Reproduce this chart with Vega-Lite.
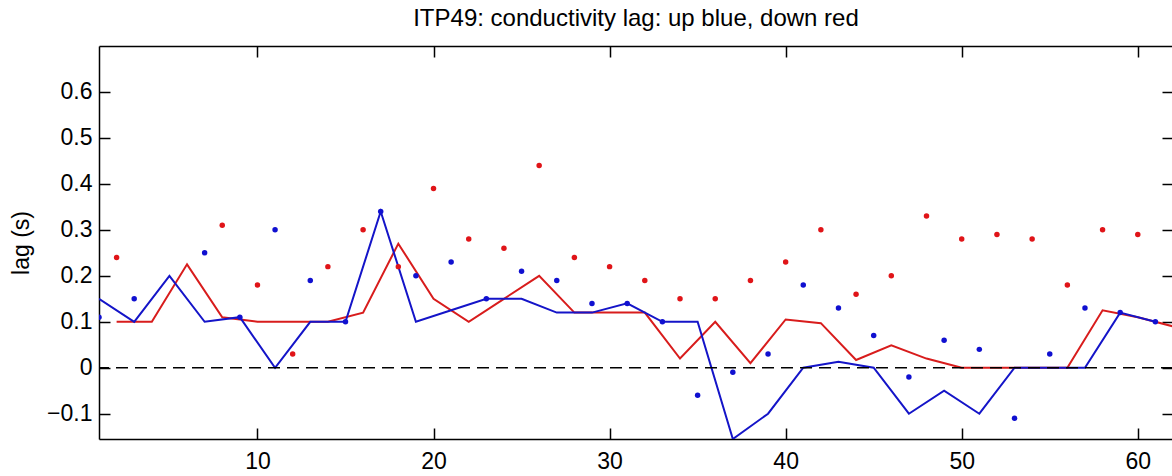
{
  "$schema": "https://vega.github.io/schema/vega-lite/v6.json",
  "width": 1074,
  "height": 393,
  "autosize": {"type": "none"},
  "padding": {"left": 99, "top": 46, "right": 0, "bottom": 37},
  "background": "white",
  "config": {"view": {"stroke": null}, "font": "Liberation Sans"},
  "title": {"text": "ITP49: conductivity lag: up blue, down red", "fontSize": 24, "fontWeight": "normal", "font": "Liberation Sans", "color": "black", "anchor": "middle", "offset": 14},
  "datasets": {
    "dots": [
      {"x": 1, "lag": 0.11, "dir": "up"}, {"x": 3, "lag": 0.15, "dir": "up"}, {"x": 7, "lag": 0.25, "dir": "up"},
      {"x": 9, "lag": 0.11, "dir": "up"}, {"x": 11, "lag": 0.30, "dir": "up"}, {"x": 13, "lag": 0.19, "dir": "up"},
      {"x": 15, "lag": 0.10, "dir": "up"}, {"x": 17, "lag": 0.34, "dir": "up"}, {"x": 19, "lag": 0.20, "dir": "up"},
      {"x": 21, "lag": 0.23, "dir": "up"}, {"x": 23, "lag": 0.15, "dir": "up"}, {"x": 25, "lag": 0.21, "dir": "up"},
      {"x": 27, "lag": 0.19, "dir": "up"}, {"x": 29, "lag": 0.14, "dir": "up"}, {"x": 31, "lag": 0.14, "dir": "up"},
      {"x": 33, "lag": 0.10, "dir": "up"}, {"x": 35, "lag": -0.06, "dir": "up"}, {"x": 37, "lag": -0.01, "dir": "up"},
      {"x": 39, "lag": 0.03, "dir": "up"}, {"x": 41, "lag": 0.18, "dir": "up"}, {"x": 43, "lag": 0.13, "dir": "up"},
      {"x": 45, "lag": 0.07, "dir": "up"}, {"x": 47, "lag": -0.02, "dir": "up"}, {"x": 49, "lag": 0.06, "dir": "up"},
      {"x": 51, "lag": 0.04, "dir": "up"}, {"x": 53, "lag": -0.11, "dir": "up"}, {"x": 55, "lag": 0.03, "dir": "up"},
      {"x": 57, "lag": 0.13, "dir": "up"}, {"x": 59, "lag": 0.12, "dir": "up"}, {"x": 61, "lag": 0.10, "dir": "up"},
      {"x": 2, "lag": 0.24, "dir": "down"}, {"x": 8, "lag": 0.31, "dir": "down"}, {"x": 10, "lag": 0.18, "dir": "down"},
      {"x": 12, "lag": 0.03, "dir": "down"}, {"x": 14, "lag": 0.22, "dir": "down"}, {"x": 16, "lag": 0.30, "dir": "down"},
      {"x": 18, "lag": 0.22, "dir": "down"}, {"x": 20, "lag": 0.39, "dir": "down"}, {"x": 22, "lag": 0.28, "dir": "down"},
      {"x": 24, "lag": 0.26, "dir": "down"}, {"x": 26, "lag": 0.44, "dir": "down"}, {"x": 28, "lag": 0.24, "dir": "down"},
      {"x": 30, "lag": 0.22, "dir": "down"}, {"x": 32, "lag": 0.19, "dir": "down"}, {"x": 34, "lag": 0.15, "dir": "down"},
      {"x": 36, "lag": 0.15, "dir": "down"}, {"x": 38, "lag": 0.19, "dir": "down"}, {"x": 40, "lag": 0.23, "dir": "down"},
      {"x": 42, "lag": 0.30, "dir": "down"}, {"x": 44, "lag": 0.16, "dir": "down"}, {"x": 46, "lag": 0.20, "dir": "down"},
      {"x": 48, "lag": 0.33, "dir": "down"}, {"x": 50, "lag": 0.28, "dir": "down"}, {"x": 52, "lag": 0.29, "dir": "down"},
      {"x": 54, "lag": 0.28, "dir": "down"}, {"x": 56, "lag": 0.18, "dir": "down"}, {"x": 58, "lag": 0.30, "dir": "down"},
      {"x": 60, "lag": 0.29, "dir": "down"}
    ],
    "lines": [
      {"x": 1, "lag": 0.15, "dir": "up"}, {"x": 3, "lag": 0.10, "dir": "up"}, {"x": 5, "lag": 0.20, "dir": "up"},
      {"x": 7, "lag": 0.10, "dir": "up"}, {"x": 9, "lag": 0.11, "dir": "up"}, {"x": 11, "lag": 0.0, "dir": "up"},
      {"x": 13, "lag": 0.10, "dir": "up"}, {"x": 15, "lag": 0.10, "dir": "up"}, {"x": 17, "lag": 0.34, "dir": "up"},
      {"x": 19, "lag": 0.10, "dir": "up"}, {"x": 21, "lag": 0.125, "dir": "up"}, {"x": 23, "lag": 0.15, "dir": "up"},
      {"x": 25, "lag": 0.15, "dir": "up"}, {"x": 27, "lag": 0.12, "dir": "up"}, {"x": 29, "lag": 0.12, "dir": "up"},
      {"x": 31, "lag": 0.14, "dir": "up"}, {"x": 33, "lag": 0.10, "dir": "up"}, {"x": 35, "lag": 0.10, "dir": "up"},
      {"x": 37, "lag": -0.155, "dir": "up"}, {"x": 39, "lag": -0.10, "dir": "up"}, {"x": 41, "lag": 0.0, "dir": "up"},
      {"x": 43, "lag": 0.013, "dir": "up"}, {"x": 45, "lag": 0.0, "dir": "up"}, {"x": 47, "lag": -0.10, "dir": "up"},
      {"x": 49, "lag": -0.05, "dir": "up"}, {"x": 51, "lag": -0.10, "dir": "up"}, {"x": 53, "lag": 0.0, "dir": "up"},
      {"x": 55, "lag": 0.0, "dir": "up"}, {"x": 57, "lag": 0.0, "dir": "up"}, {"x": 59, "lag": 0.12, "dir": "up"},
      {"x": 61, "lag": 0.10, "dir": "up"},
      {"x": 2, "lag": 0.10, "dir": "down"}, {"x": 4, "lag": 0.10, "dir": "down"}, {"x": 6, "lag": 0.225, "dir": "down"},
      {"x": 8, "lag": 0.11, "dir": "down"}, {"x": 10, "lag": 0.10, "dir": "down"}, {"x": 12, "lag": 0.10, "dir": "down"},
      {"x": 14, "lag": 0.10, "dir": "down"}, {"x": 16, "lag": 0.12, "dir": "down"}, {"x": 18, "lag": 0.27, "dir": "down"},
      {"x": 20, "lag": 0.15, "dir": "down"}, {"x": 22, "lag": 0.10, "dir": "down"}, {"x": 24, "lag": 0.15, "dir": "down"},
      {"x": 26, "lag": 0.20, "dir": "down"}, {"x": 28, "lag": 0.12, "dir": "down"}, {"x": 30, "lag": 0.12, "dir": "down"},
      {"x": 32, "lag": 0.12, "dir": "down"}, {"x": 34, "lag": 0.02, "dir": "down"}, {"x": 36, "lag": 0.10, "dir": "down"},
      {"x": 38, "lag": 0.01, "dir": "down"}, {"x": 40, "lag": 0.105, "dir": "down"}, {"x": 42, "lag": 0.097, "dir": "down"},
      {"x": 44, "lag": 0.017, "dir": "down"}, {"x": 46, "lag": 0.049, "dir": "down"}, {"x": 48, "lag": 0.02, "dir": "down"},
      {"x": 50, "lag": 0.0, "dir": "down"}, {"x": 52, "lag": 0.0, "dir": "down"}, {"x": 54, "lag": 0.0, "dir": "down"},
      {"x": 56, "lag": 0.0, "dir": "down"}, {"x": 58, "lag": 0.125, "dir": "down"}, {"x": 60, "lag": 0.11, "dir": "down"},
      {"x": 62, "lag": 0.09, "dir": "down"}
    ]
  },
  "layer": [
    {
      "data": {"name": "lines"},
      "transform": [{"filter": "datum.dir === 'down'"}],
      "mark": {"type": "line", "color": "#d81c1c", "strokeWidth": 2, "clip": true},
      "encoding": {
        "x": {"field": "x", "type": "quantitative", "scale": {"domain": [1, 62], "nice": false, "zero": false},
          "axis": {"orient": "bottom", "values": [10, 20, 30, 40, 50, 60], "title": null, "grid": false,
            "tickSize": -11, "tickWidth": 1.5, "tickColor": "black", "domainColor": "black", "domainWidth": 1.5,
            "labelFontSize": 23, "labelColor": "black", "labelPadding": 22, "labelFont": "Liberation Sans", "labelFlush": false}},
        "y": {"field": "lag", "type": "quantitative", "scale": {"domain": [-0.155, 0.7], "nice": false, "zero": false},
          "axis": {"orient": "left", "values": [-0.1, 0, 0.1, 0.2, 0.3, 0.4, 0.5, 0.6], "format": "~g", "grid": false,
            "tickSize": -11, "tickWidth": 1.5, "tickColor": "black", "domainColor": "black", "domainWidth": 1.5,
            "labelFontSize": 23, "labelColor": "black", "labelPadding": 18, "labelFont": "Liberation Sans", "labelFlush": false,
            "title": "lag (s)", "titleFontSize": 23, "titleFontWeight": "normal", "titleColor": "black", "titleFont": "Liberation Sans",
            "titleAngle": 270, "titleX": -70.5, "titleY": 196.5, "titleAlign": "center", "titleBaseline": "alphabetic"}}
      }
    },
    {
      "data": {"name": "lines"},
      "transform": [{"filter": "datum.dir === 'up'"}],
      "mark": {"type": "line", "color": "#1414c8", "strokeWidth": 2, "clip": true},
      "encoding": {
        "x": {"field": "x", "type": "quantitative", "axis": null},
        "y": {"field": "lag", "type": "quantitative", "axis": null}
      }
    },
    {
      "data": {"values": [{"zero": 0}]},
      "mark": {"type": "rule", "color": "black", "strokeWidth": 1.5, "strokeDash": [12, 7]},
      "encoding": {
        "y": {"field": "zero", "type": "quantitative", "axis": null}
      }
    },
    {
      "data": {"name": "dots"},
      "mark": {"type": "circle", "size": 30, "opacity": 1, "clip": true},
      "encoding": {
        "x": {"field": "x", "type": "quantitative",
          "axis": {"orient": "top", "values": [10, 20, 30, 40, 50, 60], "labels": false, "title": null, "grid": false,
            "tickSize": -11, "tickWidth": 1.5, "tickColor": "black", "domainColor": "black", "domainWidth": 1.5}},
        "y": {"field": "lag", "type": "quantitative",
          "axis": {"orient": "right", "values": [-0.1, 0, 0.1, 0.2, 0.3, 0.4, 0.5, 0.6], "labels": false, "title": null, "grid": false,
            "tickSize": -11, "tickWidth": 1.5, "tickColor": "black", "domainColor": "black", "domainWidth": 1.5}},
        "color": {"field": "dir", "type": "nominal", "scale": {"domain": ["up", "down"], "range": ["#1010d0", "#e01418"]}, "legend": null}
      }
    }
  ],
  "resolve": {"axis": {"x": "independent", "y": "independent"}}
}
